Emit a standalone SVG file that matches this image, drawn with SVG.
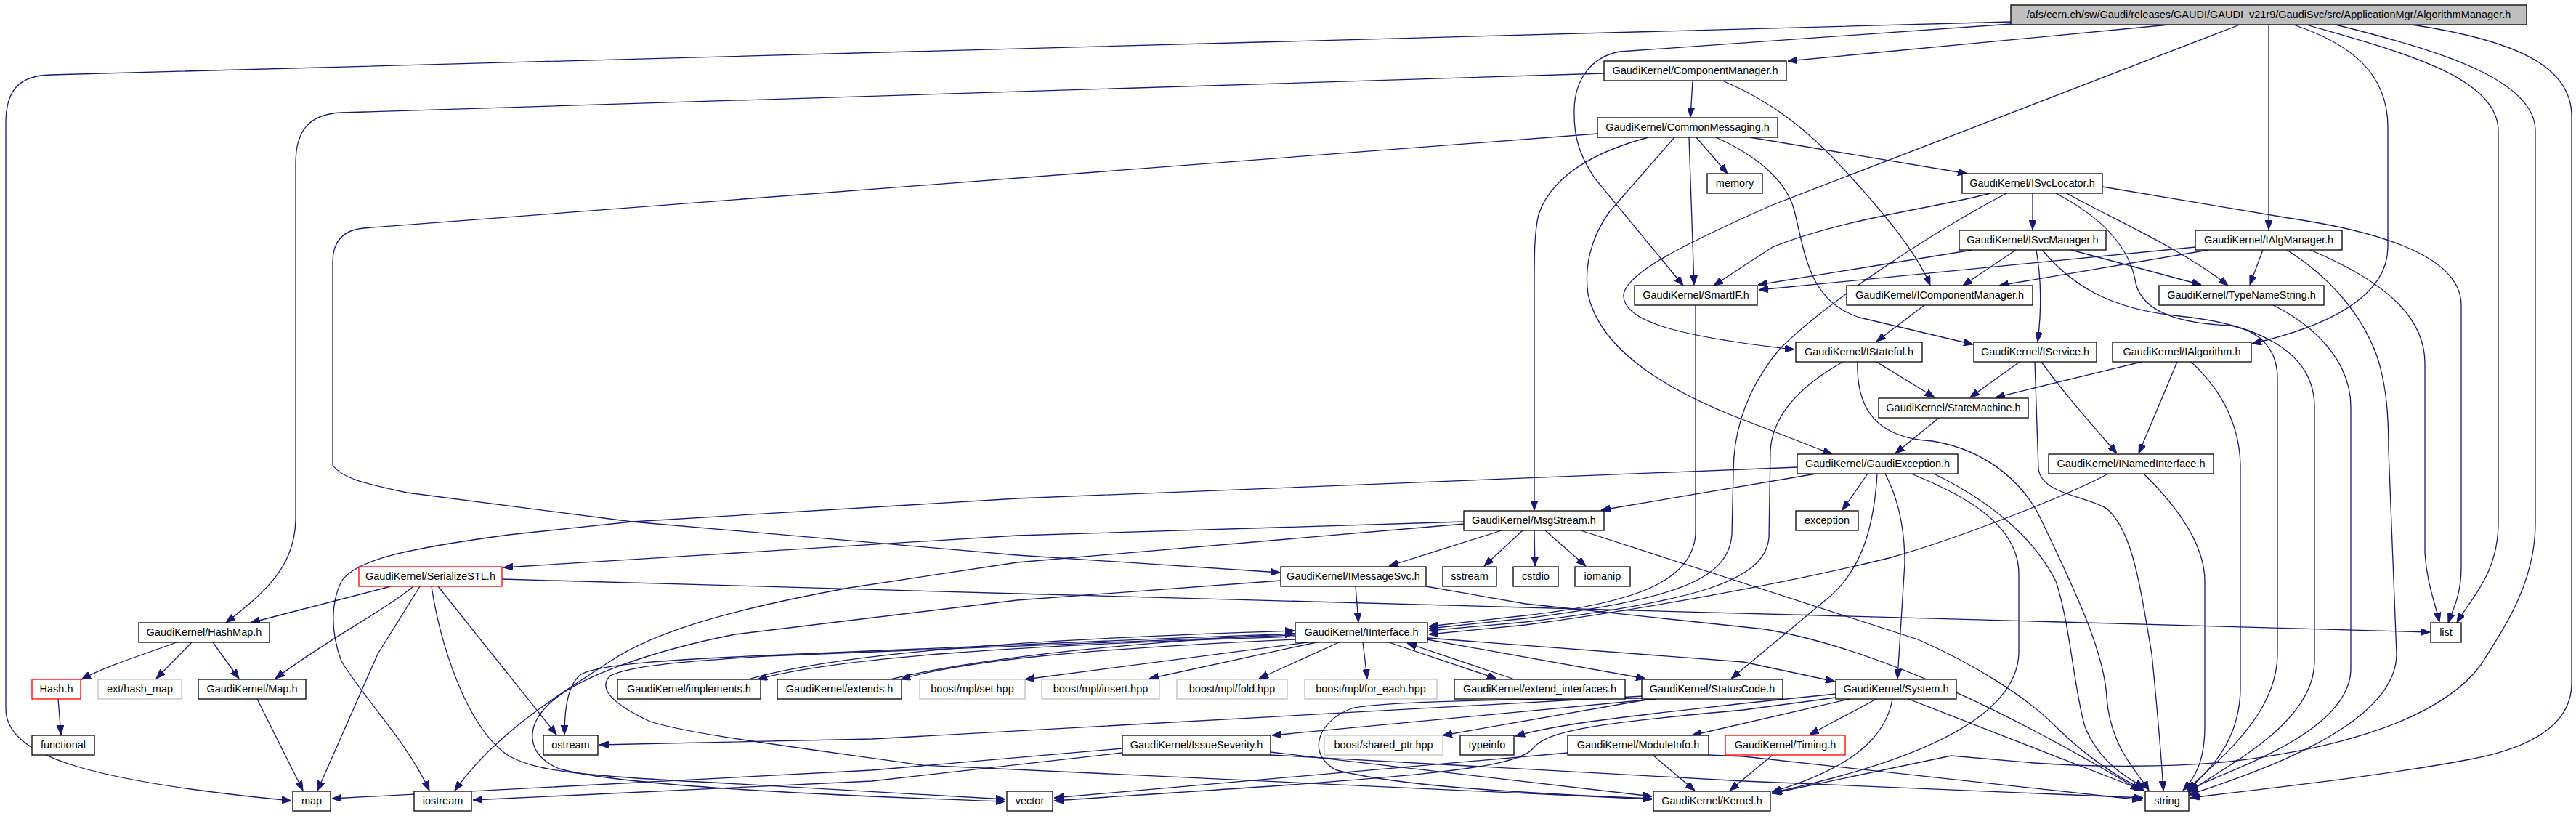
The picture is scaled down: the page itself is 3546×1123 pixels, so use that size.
<svg xmlns="http://www.w3.org/2000/svg" width="3546" height="1123" viewBox="0 0 3546 1123">
<defs>
<marker id="ah" markerWidth="13" markerHeight="10" refX="13" refY="5" orient="auto" markerUnits="userSpaceOnUse"><path d="M0,0 L13,5 L0,10 z" fill="#191970" stroke="#191970" stroke-width="1"/></marker>
<style>
rect{fill:#fff;stroke:#000;stroke-width:1.3}
rect.root{fill:#bfbfbf}
rect.g{stroke:#bfbfbf}
rect.r{stroke:#ff0000}
text{font-family:"Liberation Sans",Arial,sans-serif;font-size:14.5px;text-anchor:middle;fill:#000}
#edges path{fill:none;stroke:#191970;stroke-width:1.3;marker-end:url(#ah)}
</style>
</defs>
<rect x="0" y="0" width="3546" height="1123" style="fill:#fff;stroke:none"/>
<g id="edges">
<path d="M2986,34 L2461,84"/>
<path d="M3123,34 L3123,316"/>
<path d="M3157,34 C3235,60 3287,100 3287,175 L3287,340 C3287,410 3200,450 3100,473"/>
<path d="M2768,33 L2230,71 C2190,78 2168,110 2167,150 C2166,190 2175,215 2195,245 L2317,393"/>
<path d="M3083,34 L2440,282 C2320,335 2240,375 2235,405 C2232,440 2300,462 2470,481"/>
<path d="M2768,30 L70,103 C25,104 8,125 8,170 L8,975 C8,1040 120,1075 401,1102"/>
<path d="M3175,34 C3300,70 3439,105 3439,180 L3439,720 C3439,790 3400,825 3382,857"/>
<path d="M3215,34 C3360,70 3490,110 3490,180 L3490,720 C3490,800 3450,860 3415,915 C3360,990 3220,1030 3070,1048 C2990,1056 2880,1056 2800,1050 L2686,1040 L2439,1092"/>
<path d="M3320,34 C3460,55 3540,90 3540,160 L3540,940 C3540,1000 3480,1030 3400,1045 C3280,1068 3120,1085 3015,1098"/>
<path d="M2330,111 L2327,161"/>
<path d="M2371,111 C2440,140 2490,180 2540,235 C2595,295 2640,350 2657,393"/>
<path d="M2208,101 L470,155 C425,157 407,180 407,225 L407,715 C406,780 365,815 311,857"/>
<path d="M2269,189 C2190,210 2135,245 2118,295 C2112,320 2112,350 2112,400 L2112,702"/>
<path d="M2305,189 L2215,292 C2188,330 2181,370 2186,405 C2200,470 2270,525 2380,570 L2522,625"/>
<path d="M2325,189 L2332,392"/>
<path d="M2335,189 L2378,239"/>
<path d="M2362,189 C2420,215 2460,250 2470,290 C2485,350 2490,415 2560,437 L2716,474"/>
<path d="M2409,189 L2708,239"/>
<path d="M2199,184 L500,314 C470,317 458,335 458,360 L458,640 C470,658 500,665 560,678 L870,718 L1400,764 L1762,788"/>
<path d="M2798,266 L2798,316"/>
<path d="M2740,266 C2670,285 2540,300 2440,340 L2359,393"/>
<path d="M2762,266 C2650,325 2510,420 2450,480 C2400,540 2386,600 2386,650 L2384,735 C2380,800 2300,825 2100,851 L1967,865"/>
<path d="M2845,266 C2905,300 3000,340 3067,393"/>
<path d="M2894,257 L3150,300 C3300,322 3388,360 3388,420 L3388,780 C3388,820 3376,840 3370,857"/>
<path d="M2830,266 C2895,300 2932,340 2940,390 C2950,430 3000,445 3070,448 C3110,455 3135,480 3135,520 L3135,900 C3135,990 3040,1055 3010,1089"/>
<path d="M2715,344 L2420,392"/>
<path d="M2775,344 L2702,393"/>
<path d="M2803,344 C2811,390 2810,430 2805,470"/>
<path d="M2851,344 L3030,392"/>
<path d="M2811,344 C2850,390 2900,425 3000,435 C3100,445 3186,480 3186,560 L3186,910 C3186,1000 3050,1060 3013,1091"/>
<path d="M3022,340 L2421,399"/>
<path d="M3040,344 L2752,393"/>
<path d="M3115,344 L3097,392"/>
<path d="M3148,344 C3205,380 3250,430 3272,490 C3285,530 3288,570 3288,620 L3299,900 C3299,1000 3100,1065 3013,1094"/>
<path d="M3180,344 C3290,390 3338,440 3338,500 L3338,760 C3340,800 3352,830 3358,856"/>
<path d="M2334,420 L2334,735 C2330,800 2250,830 2100,847 L1967,862"/>
<path d="M2649,420 L2583,470"/>
<path d="M3129,420 C3190,450 3236,500 3236,560 L3236,920 C3236,1010 3060,1062 3013,1087"/>
<path d="M2583,498 L2663,547"/>
<path d="M2537,498 C2480,530 2440,570 2437,620 L2435,740 C2430,800 2330,828 2100,856 L1967,868"/>
<path d="M2557,498 C2555,565 2585,603 2660,607 C2740,620 2790,670 2812,720 C2860,820 2897,900 2900,960 C2905,1030 2945,1065 2958,1088"/>
<path d="M2780,498 L2712,547"/>
<path d="M2801,498 L2806,645 C2810,680 2870,682 2900,700 C2935,730 2945,800 2962,900 C2970,980 2975,1040 2978,1088"/>
<path d="M2810,498 C2840,540 2880,585 2914,624"/>
<path d="M2948,498 L2747,547"/>
<path d="M2997,498 L2944,624"/>
<path d="M3016,498 C3062,540 3083,590 3084,640 L3084,950 C3082,1030 3030,1068 3012,1088"/>
<path d="M2669,575 L2609,624"/>
<path d="M2500,652 L2204,702"/>
<path d="M2571,652 L2536,702"/>
<path d="M2584,652 C2580,720 2565,780 2520,820 L2383,934"/>
<path d="M2595,652 C2615,690 2622,730 2622,775 L2612,934"/>
<path d="M2631,652 C2700,680 2779,720 2779,790 L2779,900 C2775,985 2650,1045 2440,1091"/>
<path d="M2662,652 C2740,690 2800,740 2830,800 C2850,860 2855,950 2870,1000 C2890,1050 2930,1072 2952,1084"/>
<path d="M2474,643 L1400,686 L870,718 L700,736 C560,755 490,770 470,800 C455,830 455,870 470,910 C500,960 560,1020 591,1088"/>
<path d="M2902,652 C2850,680 2700,740 2600,768 C2450,805 2250,840 2100,860 L1967,873"/>
<path d="M2951,652 C3000,700 3035,750 3035,800 L3035,1000 C3035,1050 3020,1072 3005,1088"/>
<path d="M2015,718 L1400,737 L693,781"/>
<path d="M2067,730 L1912,779"/>
<path d="M2096,730 L2043,779"/>
<path d="M2112,730 L2113,779"/>
<path d="M2127,730 L2183,779"/>
<path d="M2176,730 L2640,880 C2720,915 2790,960 2830,1000 C2870,1040 2915,1070 2951,1087"/>
<path d="M2015,721 L1400,774 L1169,809 C1000,840 900,870 840,910 C760,962 680,1012 626,1088"/>
<path d="M1866,807 L1870,856"/>
<path d="M1763,799 L1400,826 L1012,873 C900,895 800,930 760,965 C720,1000 725,1040 770,1058 C830,1075 1000,1090 1384,1103"/>
<path d="M1963,807 L2100,831 L2430,866 C2600,895 2800,1000 2946,1088"/>
<path d="M691,797 L1400,817 L2100,836 L2800,855 L3345,870"/>
<path d="M538,807 L345,857"/>
<path d="M569,807 C530,840 450,880 379,934"/>
<path d="M578,807 L520,900 L437,1088"/>
<path d="M594,807 C605,880 640,1000 700,1040 C740,1062 800,1068 1000,1078 L1384,1100"/>
<path d="M603,807 L766,1011"/>
<path d="M243,884 C200,900 150,915 112,935"/>
<path d="M264,884 L215,934"/>
<path d="M293,884 L329,934"/>
<path d="M80,962 L84,1011"/>
<path d="M354,962 L417,1088"/>
<path d="M1783,876 C1400,888 1150,905 1043,935"/>
<path d="M1030,935 C1150,900 1400,880 1782,868"/>
<path d="M1783,880 C1500,893 1330,908 1240,935"/>
<path d="M1225,935 C1350,905 1550,885 1782,872"/>
<path d="M1800,884 L1411,935"/>
<path d="M1812,884 L1582,934"/>
<path d="M1843,884 L1733,934"/>
<path d="M1876,884 L1882,934"/>
<path d="M1912,884 L2060,934"/>
<path d="M2085,935 L1937,885"/>
<path d="M1964,880 L2265,934"/>
<path d="M1965,878 L2400,911 L2526,938"/>
<path d="M1783,874 C1500,885 1150,898 1054,903 C950,910 870,915 840,930 C825,945 835,965 895,993 C950,1010 1050,1022 1269,1053 L2274,1100"/>
<path d="M1783,872 C1500,882 1150,898 1054,902 C950,907 830,912 800,928 C780,942 777,980 777,1011"/>
<path d="M2279,962 L1751,1012"/>
<path d="M2272,962 L1986,1012"/>
<path d="M2262,958 L1200,1017 L825,1025"/>
<path d="M2262,961 C2100,962 1900,965 1860,975 C1810,995 1800,1040 1840,1060 C1900,1075 2000,1088 2274,1099"/>
<path d="M1749,1035 L2274,1096"/>
<path d="M1749,1039 L2400,1075 L2950,1098"/>
<path d="M1545,1030 L1200,1060 L457,1099"/>
<path d="M1545,1036 L1200,1075 L651,1101"/>
<path d="M2527,955 L2400,968 C2250,985 2150,995 2086,1013"/>
<path d="M2546,962 L2329,1012"/>
<path d="M2527,960 L2400,977 C2200,995 2130,1005 2110,1030 C2085,1062 1900,1072 1451,1102"/>
<path d="M2583,962 L2491,1011"/>
<path d="M2605,962 C2595,1020 2540,1060 2439,1090"/>
<path d="M2627,962 C2750,1010 2880,1060 2951,1088"/>
<path d="M2275,1039 L2333,1088"/>
<path d="M2158,1036 L1451,1098"/>
<path d="M2352,1039 L2400,1041 L2948,1101"/>
<path d="M2440,1039 L2381,1088"/>
</g>
<g id="n-root"><rect class="root" x="2768" y="7" width="710" height="27"/><text x="3123" y="25">/afs/cern.ch/sw/Gaudi/releases/GAUDI/GAUDI_v21r9/GaudiSvc/src/ApplicationMgr/AlgorithmManager.h</text></g>
<g id="n-ComponentManager"><rect x="2208" y="84" width="251" height="27"/><text x="2333.5" y="102">GaudiKernel/ComponentManager.h</text></g>
<g id="n-CommonMessaging"><rect x="2199" y="162" width="248" height="27"/><text x="2323" y="180">GaudiKernel/CommonMessaging.h</text></g>
<g id="n-memory"><rect x="2350" y="239" width="76" height="27"/><text x="2388" y="257">memory</text></g>
<g id="n-ISvcLocator"><rect x="2701" y="239" width="193" height="27"/><text x="2797.5" y="257">GaudiKernel/ISvcLocator.h</text></g>
<g id="n-ISvcManager"><rect x="2697" y="317" width="202" height="27"/><text x="2798" y="335">GaudiKernel/ISvcManager.h</text></g>
<g id="n-IAlgManager"><rect x="3022" y="317" width="202" height="27"/><text x="3123" y="335">GaudiKernel/IAlgManager.h</text></g>
<g id="n-SmartIF"><rect x="2250" y="393" width="169" height="27"/><text x="2334.5" y="411">GaudiKernel/SmartIF.h</text></g>
<g id="n-IComponentManager"><rect x="2542" y="393" width="256" height="27"/><text x="2670" y="411">GaudiKernel/IComponentManager.h</text></g>
<g id="n-TypeNameString"><rect x="2972" y="393" width="227" height="27"/><text x="3085.5" y="411">GaudiKernel/TypeNameString.h</text></g>
<g id="n-IStateful"><rect x="2472" y="471" width="174" height="27"/><text x="2559" y="489">GaudiKernel/IStateful.h</text></g>
<g id="n-IService"><rect x="2717" y="471" width="169" height="27"/><text x="2801.5" y="489">GaudiKernel/IService.h</text></g>
<g id="n-IAlgorithm"><rect x="2908" y="471" width="191" height="27"/><text x="3003.5" y="489">GaudiKernel/IAlgorithm.h</text></g>
<g id="n-StateMachine"><rect x="2586" y="548" width="206" height="27"/><text x="2689" y="566">GaudiKernel/StateMachine.h</text></g>
<g id="n-GaudiException"><rect x="2474" y="625" width="221" height="27"/><text x="2584.5" y="643">GaudiKernel/GaudiException.h</text></g>
<g id="n-INamedInterface"><rect x="2820" y="625" width="227" height="27"/><text x="2933.5" y="643">GaudiKernel/INamedInterface.h</text></g>
<g id="n-exception"><rect x="2472" y="703" width="86" height="27"/><text x="2515" y="721">exception</text></g>
<g id="n-MsgStream"><rect x="2015" y="703" width="193" height="27"/><text x="2111.5" y="721">GaudiKernel/MsgStream.h</text></g>
<g id="n-SerializeSTL"><rect class="r" x="494" y="780" width="197" height="27"/><text x="592.5" y="798">GaudiKernel/SerializeSTL.h</text></g>
<g id="n-IMessageSvc"><rect x="1763" y="780" width="200" height="27"/><text x="1863" y="798">GaudiKernel/IMessageSvc.h</text></g>
<g id="n-sstream"><rect x="1986" y="780" width="74" height="27"/><text x="2023" y="798">sstream</text></g>
<g id="n-cstdio"><rect x="2083" y="780" width="62" height="27"/><text x="2114" y="798">cstdio</text></g>
<g id="n-iomanip"><rect x="2168" y="780" width="76" height="27"/><text x="2206" y="798">iomanip</text></g>
<g id="n-HashMap"><rect x="191" y="857" width="180" height="27"/><text x="281" y="875">GaudiKernel/HashMap.h</text></g>
<g id="n-IInterface"><rect x="1783" y="857" width="182" height="27"/><text x="1874" y="875">GaudiKernel/IInterface.h</text></g>
<g id="n-list"><rect x="3346" y="857" width="42" height="27"/><text x="3367" y="875">list</text></g>
<g id="n-Hash"><rect class="r" x="44" y="935" width="67" height="27"/><text x="77.5" y="953">Hash.h</text></g>
<g id="n-ext_hash_map"><rect class="g" x="135" y="935" width="115" height="27"/><text x="192.5" y="953">ext/hash_map</text></g>
<g id="n-Map"><rect x="273" y="935" width="148" height="27"/><text x="347" y="953">GaudiKernel/Map.h</text></g>
<g id="n-implements"><rect x="850" y="935" width="197" height="27"/><text x="948.5" y="953">GaudiKernel/implements.h</text></g>
<g id="n-extends"><rect x="1070" y="935" width="171" height="27"/><text x="1155.5" y="953">GaudiKernel/extends.h</text></g>
<g id="n-mpl_set"><rect class="g" x="1266" y="935" width="145" height="27"/><text x="1338.5" y="953">boost/mpl/set.hpp</text></g>
<g id="n-mpl_insert"><rect class="g" x="1434" y="935" width="162" height="27"/><text x="1515" y="953">boost/mpl/insert.hpp</text></g>
<g id="n-mpl_fold"><rect class="g" x="1620" y="935" width="152" height="27"/><text x="1696" y="953">boost/mpl/fold.hpp</text></g>
<g id="n-mpl_for_each"><rect class="g" x="1796" y="935" width="182" height="27"/><text x="1887" y="953">boost/mpl/for_each.hpp</text></g>
<g id="n-extend_interfaces"><rect x="2002" y="935" width="235" height="27"/><text x="2119.5" y="953">GaudiKernel/extend_interfaces.h</text></g>
<g id="n-StatusCode"><rect x="2260" y="935" width="194" height="27"/><text x="2357" y="953">GaudiKernel/StatusCode.h</text></g>
<g id="n-System"><rect x="2527" y="935" width="166" height="27"/><text x="2610" y="953">GaudiKernel/System.h</text></g>
<g id="n-functional"><rect x="44" y="1012" width="86" height="27"/><text x="87" y="1030">functional</text></g>
<g id="n-ostream"><rect x="748" y="1012" width="75" height="27"/><text x="785.5" y="1030">ostream</text></g>
<g id="n-IssueSeverity"><rect x="1545" y="1012" width="204" height="27"/><text x="1647" y="1030">GaudiKernel/IssueSeverity.h</text></g>
<g id="n-shared_ptr"><rect class="g" x="1823" y="1012" width="163" height="27"/><text x="1904.5" y="1030">boost/shared_ptr.hpp</text></g>
<g id="n-typeinfo"><rect x="2010" y="1012" width="74" height="27"/><text x="2047" y="1030">typeinfo</text></g>
<g id="n-ModuleInfo"><rect x="2158" y="1012" width="194" height="27"/><text x="2255" y="1030">GaudiKernel/ModuleInfo.h</text></g>
<g id="n-Timing"><rect class="r" x="2375" y="1012" width="165" height="27"/><text x="2457.5" y="1030">GaudiKernel/Timing.h</text></g>
<g id="n-map"><rect x="403" y="1089" width="52" height="27"/><text x="429" y="1107">map</text></g>
<g id="n-iostream"><rect x="570" y="1089" width="79" height="27"/><text x="609.5" y="1107">iostream</text></g>
<g id="n-vector"><rect x="1386" y="1089" width="63" height="27"/><text x="1417.5" y="1107">vector</text></g>
<g id="n-Kernel"><rect x="2276" y="1089" width="161" height="27"/><text x="2356.5" y="1107">GaudiKernel/Kernel.h</text></g>
<g id="n-string"><rect x="2953" y="1089" width="60" height="27"/><text x="2983" y="1107">string</text></g>
</svg>
